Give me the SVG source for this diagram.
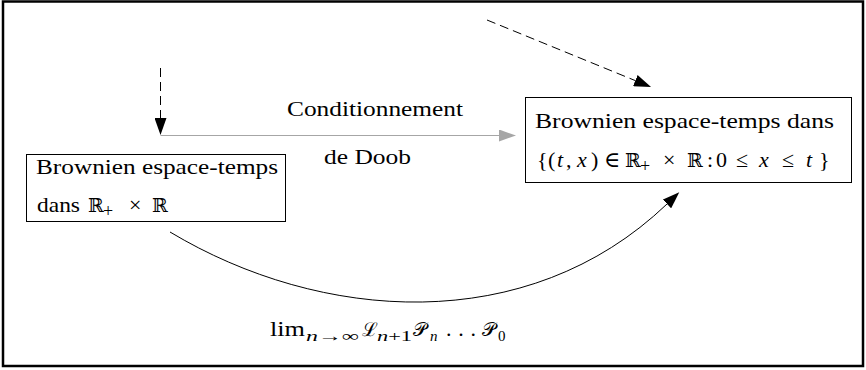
<svg xmlns="http://www.w3.org/2000/svg" width="866" height="370" viewBox="0 0 866 370">
<defs>
<style>
.t{font-family:"Liberation Serif","DejaVu Serif",serif;font-size:22px;fill:#000}
.s{font-size:15px}
.p{font-size:18px}
.i{font-style:italic}
.bb{font-family:"DejaVu Serif","DejaVu Sans",serif;font-size:19px}
.sc{font-size:19px}
.box{fill:#fff;stroke:#000;stroke-width:1}
.ln{fill:none;stroke:#000;stroke-width:1}
.dash{stroke-dasharray:9 5}
.gray{stroke:#a6a6a6}
</style>
<marker id="ah" markerUnits="userSpaceOnUse" markerWidth="17" markerHeight="12" viewBox="0 0 17 12" refX="0" refY="6" orient="auto"><path d="M0,0 L17,6 L0,12 z" fill="#000"/></marker>
<marker id="ahg" markerUnits="userSpaceOnUse" markerWidth="17" markerHeight="12" viewBox="0 0 17 12" refX="0" refY="6" orient="auto"><path d="M0,0 L17,6 L0,12 z" fill="#a6a6a6"/></marker>
</defs>
<rect x="3" y="1.5" width="860" height="364.5" fill="#fff" stroke="#000" stroke-width="2.5"/>
<g id="connectors">
<path class="ln dash" d="M160.5,68 L160.5,118" marker-end="url(#ah)"/>
<path class="ln dash" d="M487,20 L635.3,80.6" marker-end="url(#ah)"/>
<path class="ln gray" d="M160.5,135.5 L499,135.5" marker-end="url(#ahg)"/>
<path class="ln" d="M170,232 C320,322 527,338 667,204" marker-end="url(#ah)"/>
</g>
<g id="label-doob" class="t">
<text x="287" y="116" textLength="176" lengthAdjust="spacingAndGlyphs">Conditionnement</text>
<text x="324" y="164" textLength="87" lengthAdjust="spacingAndGlyphs">de Doob</text>
</g>
<g id="label-lim" class="t">
<text x="270" y="336" textLength="35" lengthAdjust="spacingAndGlyphs">lim</text>
<text x="306" y="341" class="s" textLength="53" lengthAdjust="spacingAndGlyphs"><tspan class="i">n</tspan>→∞</text>
<text x="362" y="336" class="sc">ℒ</text>
<text x="377" y="341" class="s" textLength="35" lengthAdjust="spacingAndGlyphs"><tspan class="i">n</tspan>+1</text>
<text x="413" y="336" class="sc">𝒫</text>
<text x="430" y="341" class="s i">n</text>
<text x="446" y="336" textLength="30" lengthAdjust="spacing">...</text>
<text x="482" y="336" class="sc">𝒫</text>
<text x="498" y="341" class="s">0</text>
</g>
<g id="node-left">
<rect class="box" x="26.5" y="154.5" width="259" height="67"/>
<text class="t" x="36" y="174" textLength="242" lengthAdjust="spacingAndGlyphs">Brownien espace-temps</text>
<text class="t" y="212"><tspan x="37" textLength="43" lengthAdjust="spacingAndGlyphs">dans</tspan><tspan x="88" class="bb">ℝ</tspan><tspan x="103" y="217" class="p">+</tspan><tspan x="129" y="212">×</tspan><tspan x="152" class="bb">ℝ</tspan></text>
</g>
<g id="node-right">
<rect class="box" x="525.5" y="97.5" width="326" height="85"/>
<text class="t" x="535" y="128" textLength="299" lengthAdjust="spacingAndGlyphs">Brownien espace-temps dans</text>
<text class="t" y="167"><tspan x="537">{</tspan><tspan x="548">(</tspan><tspan x="557" class="i">t</tspan><tspan x="566">,</tspan><tspan x="577" class="i">x</tspan><tspan x="591">)</tspan><tspan x="604">∈</tspan><tspan x="625" class="bb">ℝ</tspan><tspan x="640" y="172" class="p">+</tspan><tspan x="663" y="167">×</tspan><tspan x="687" class="bb">ℝ</tspan><tspan x="707">:</tspan><tspan x="716">0</tspan><tspan x="736">≤</tspan><tspan x="759" class="i">x</tspan><tspan x="782">≤</tspan><tspan x="806" class="i">t</tspan><tspan x="819">}</tspan></text>
</g>
</svg>
